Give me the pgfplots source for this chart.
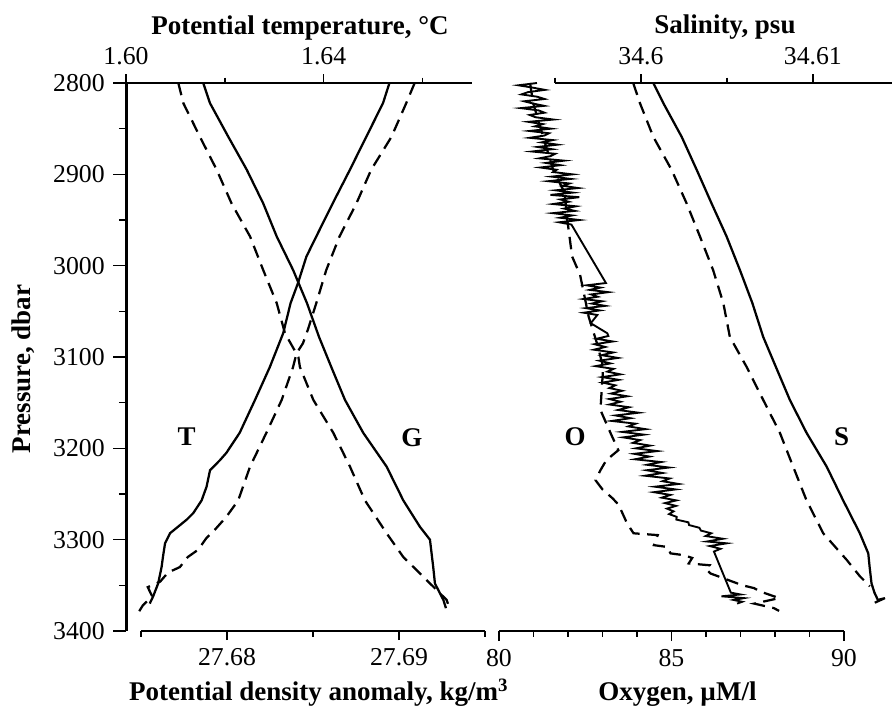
\documentclass[border=0pt]{standalone}
\usepackage{pgfplots}
\pgfplotsset{compat=1.18}
\usepackage{fontspec}
\setmainfont{Liberation Serif}
\newcommand{\tickfont}{\fontsize{10.3}{12}\selectfont}
\newcommand{\titlefont}{\fontsize{10.8}{13}\selectfont\bfseries}
\pgfplotsset{
  prof/.style={
    scale only axis, height=219.2pt, anchor=south west,
    ymin=2800, ymax=3400, y dir=reverse, clip=false,
    tick align=outside, major tick length=3.6pt, minor tick length=2.2pt,
    axis line style={line width=1.1pt, black},
    every tick/.style={black, line width=0.6pt},
    ticklabel style={font=\tickfont},
    /pgf/number format/assume math mode=true,
    scaled x ticks=false, scaled y ticks=false,
  },
  sol/.style={black, line width=0.9pt},
  das/.style={black, line width=0.9pt, dash pattern=on 5pt off 3pt},
}
\begin{document}
\begin{tikzpicture}
\path[use as bounding box] (0,0) rectangle (356.8pt,-283.2pt);

% Pressure axis
\begin{axis}[prof, at={(50.6pt,-252.4pt)}, width=138.4pt,
  xmin=0, xmax=1, axis x line=none, axis y line*=left,
  ytick={2800,2900,3000,3100,3200,3300,3400},
  minor ytick={2850,2950,3050,3150,3250,3350},
  major tick length=5.2pt, minor tick length=3pt,
  yticklabel style={/pgf/number format/1000 sep={}}]
\end{axis}

% Potential temperature (top, left panel)
\begin{axis}[prof, at={(50.4pt,-252.4pt)}, width=138.4pt,
  xmin=1.60, xmax=1.67, axis x line*=top, axis y line=none,
  xtick={1.60,1.64}, minor xtick={1.62,1.66},
  xticklabel style={/pgf/number format/.cd, fixed, fixed zerofill, precision=2}]
\addplot[sol] coordinates {(1.6533,2800) (1.6520,2822) (1.6486,2859) (1.6453,2895) (1.6418,2932) (1.6385,2968) (1.6365,2990) (1.6348,3019) (1.6333,3041) (1.6318,3074) (1.6291,3111) (1.6261,3147) (1.6230,3183) (1.6203,3205) (1.6190,3213) (1.6170,3224) (1.6163,3242) (1.6153,3257) (1.6136,3271) (1.6123,3278) (1.6089,3293) (1.6079,3304) (1.6075,3318) (1.6072,3330) (1.6065,3348) (1.6055,3362) (1.6048,3370)};
\addplot[das] coordinates {(1.6584,2800) (1.6567,2822) (1.6537,2859) (1.6496,2895) (1.6466,2932) (1.6432,2968) (1.6405,3005) (1.6385,3041) (1.6368,3070) (1.6358,3085) (1.6345,3096) (1.6338,3111) (1.6315,3147) (1.6284,3183) (1.6251,3220) (1.6227,3257) (1.6203,3275) (1.6180,3289) (1.6163,3298) (1.6146,3311) (1.6125,3319) (1.6109,3330) (1.6085,3336) (1.6069,3346) (1.6044,3352) (1.6053,3362) (1.6034,3372) (1.6026,3379)};
\end{axis}

% Potential density anomaly (bottom, left panel)
\begin{axis}[prof, at={(56.4pt,-252.4pt)}, width=137.6pt,
  xmin=27.675, xmax=27.695, axis x line*=bottom, axis y line=none,
  xtick={27.68,27.69}, minor xtick={27.675,27.685,27.695},
  xticklabel style={/pgf/number format/.cd, fixed, fixed zerofill, precision=2}]
\addplot[sol] coordinates {(27.67862,2800) (27.67901,2822) (27.68008,2859) (27.68115,2895) (27.68211,2932) (27.68289,2968) (27.68385,3005) (27.68465,3041) (27.68535,3078) (27.68613,3114) (27.68686,3147) (27.68792,3183) (27.68928,3220) (27.69025,3257) (27.69122,3286) (27.69180,3300) (27.69199,3330) (27.69209,3348) (27.69258,3366) (27.69273,3375)};
\addplot[das] coordinates {(27.67717,2800) (27.67746,2822) (27.67843,2859) (27.67940,2895) (27.68027,2932) (27.68134,2968) (27.68211,3005) (27.68289,3041) (27.68337,3074) (27.68415,3100) (27.68424,3111) (27.68502,3147) (27.68618,3183) (27.68715,3220) (27.68802,3257) (27.68928,3293) (27.69025,3319) (27.69122,3337) (27.69277,3366) (27.69297,3377)};
\end{axis}

% Salinity (top, right panel)
\begin{axis}[prof, at={(222pt,-252.4pt)}, width=134.8pt,
  xmin=34.595, xmax=34.6146, axis x line*=top, axis y line=none,
  xtick={34.60,34.61}, minor xtick={34.595,34.605},
  xticklabel style={/pgf/number format/.cd, fixed, precision=2}]
\addplot[sol] coordinates {(34.60072,2800) (34.60130,2822) (34.60237,2859) (34.60324,2895) (34.60411,2932) (34.60498,2968) (34.60576,3005) (34.60648,3041) (34.60711,3078) (34.60785,3111) (34.60866,3147) (34.60963,3183) (34.61080,3220) (34.61176,3257) (34.61273,3293) (34.61322,3315) (34.61330,3330) (34.61341,3348) (34.61358,3358) (34.61378,3366) (34.61419,3364) (34.61360,3369)};
\addplot[das] coordinates {(34.59955,2800) (34.59994,2822) (34.60072,2859) (34.60178,2895) (34.60266,2932) (34.60343,2968) (34.60420,3005) (34.60479,3041) (34.60517,3078) (34.60615,3111) (34.60711,3147) (34.60808,3183) (34.60885,3220) (34.60963,3257) (34.61060,3293) (34.61196,3322) (34.61273,3340) (34.61331,3351)};
\end{axis}

% Oxygen (bottom, right panel)
\begin{axis}[prof, at={(199.6pt,-252.4pt)}, width=138pt,
  xmin=80, xmax=90, axis x line*=bottom, axis y line=none,
  xtick={80,85,90}, minor xtick={81,82,83,84,86,87,88,89},
  major tick length=4pt]
\addplot[sol, line width=0.75pt] coordinates {
(81.10,2800) (80.56,2802.5) (80.97,2805) (81.33,2807.5) (80.84,2810) (80.65,2812.5) (81.11,2815) (81.32,2817.5) (80.73,2820) (80.99,2822.5)
(81.31,2825) (80.63,2827.5) (81.15,2830) (81.32,2832.5) (80.89,2835) (81.06,2837.5) (81.58,2840) (80.85,2842.5) (81.27,2845) (81.04,2847.5)
(81.51,2850) (80.88,2852.5) (81.45,2855) (81.32,2857.5) (80.89,2860) (81.56,2862.5) (81.23,2865) (81.70,2867.5) (81.12,2870) (81.54,2872.5)
(80.96,2875) (81.63,2877.5) (81.50,2880) (81.17,2882.5) (81.89,2885) (81.36,2887.5) (81.78,2890) (81.20,2892.5) (81.67,2895) (81.57,2897.5)
(82.13,2900) (81.53,2902.5) (82.08,2905) (81.43,2907.5) (82.04,2910) (81.84,2912.5) (82.30,2915) (81.64,2917.5) (82.14,2920) (81.49,2922.5)
(82.33,2925) (81.78,2927.5) (82.02,2930) (81.57,2932.5) (82.23,2935) (81.89,2937.5) (82.20,2940) (81.56,2942.5) (82.12,2945) (81.77,2947.5)
(82.33,2950) (81.74,2952.5) (82.10,2955)
(83.10,3019) (82.54,3021.5) (82.94,3024) (82.63,3026.5) (83.17,3029) (82.67,3031.5) (82.86,3034) (82.45,3036.5) (82.99,3039) (82.69,3041.5)
(83.08,3044) (82.52,3046.5) (82.92,3049) (82.46,3051.5) (82.85,3054) (82.66,3063) (83.14,3074)
(83.17,3077) (82.83,3080) (83.30,3083) (82.77,3086) (83.08,3089) (82.75,3092) (83.31,3095) (82.98,3098) (83.45,3101) (82.91,3104)
(83.23,3107) (82.80,3110) (83.32,3113) (83.14,3116) (83.52,3119) (82.99,3122) (83.47,3125) (83.00,3128) (83.37,3131) (83.20,3134)
(83.57,3137) (83.25,3140) (83.72,3143) (83.20,3146) (83.52,3149) (83.20,3152) (83.77,3155) (83.45,3158)
(84.05,3161) (83.38,3164) (83.81,3167) (83.27,3170) (83.96,3173) (83.75,3176) (84.25,3179) (83.57,3182) (84.20,3185) (83.60,3188)
(84.09,3191) (83.88,3194) (84.38,3197) (83.97,3200) (84.59,3203) (83.92,3206) (84.36,3209) (83.94,3212) (84.70,3215) (84.29,3218)
(84.93,3221) (84.28,3224) (84.74,3227) (84.23,3230) (84.95,3233) (84.74,3236) (85.21,3239) (84.52,3242) (85.12,3245) (84.49,3248)
(84.97,3251) (84.72,3254) (85.14,3257) (84.81,3260) (85.13,3263) (84.87,3266) (85.06,3269) (84.93,3272) (85.15,3275)
(85.14,3278) (85.49,3281) (85.51,3284) (85.81,3287) (85.85,3290) (86.15,3293) (85.99,3296) (86.49,3299) (86.03,3302) (86.60,3304)
(86.11,3307) (86.42,3310) (86.23,3313) (86.72,3358) (87.00,3360) (86.45,3362) (87.10,3364) (86.80,3366) (87.05,3368) (86.90,3370)};
\addplot[das] coordinates {(80.90,2800) (80.99,2822) (81.28,2859) (81.57,2895) (81.90,2920) (81.98,2950) (82.12,2990) (82.35,3010) (82.60,3056) (82.84,3085) (83.02,3111) (82.94,3158) (83.23,3183) (83.46,3202) (83.11,3213) (82.94,3224) (82.80,3235) (83.00,3245) (83.30,3255) (83.47,3262) (83.71,3282) (83.90,3293) (84.60,3295) (84.49,3306) (84.88,3308) (84.97,3315) (85.36,3317) (85.60,3320) (85.50,3326) (86.10,3328) (86.00,3332) (86.13,3337) (87.06,3350) (87.39,3353) (87.59,3357) (88.12,3364) (87.40,3370) (87.97,3375) (88.12,3378)};
\end{axis}

% Titles and labels
\node[font=\titlefont, anchor=base] at (120pt,-14pt) {Potential temperature, °C};
\node[font=\titlefont, anchor=base] at (290pt,-13.3pt) {Salinity, psu};
\node[font=\titlefont, anchor=base] at (127.6pt,-280.4pt) {Potential density anomaly, kg/m\textsuperscript{3}};
\node[font=\titlefont, anchor=base] at (271pt,-280.4pt) {Oxygen, µM/l};
\node[font=\titlefont, rotate=90] at (9.2pt,-147.6pt) {Pressure, dbar};
\node[font=\titlefont] at (74.7pt,-174.7pt) {T};
\node[font=\titlefont] at (164.7pt,-175.2pt) {G};
\node[font=\titlefont] at (230pt,-174.7pt) {O};
\node[font=\titlefont] at (336.7pt,-174.7pt) {S};
\end{tikzpicture}
\end{document}
